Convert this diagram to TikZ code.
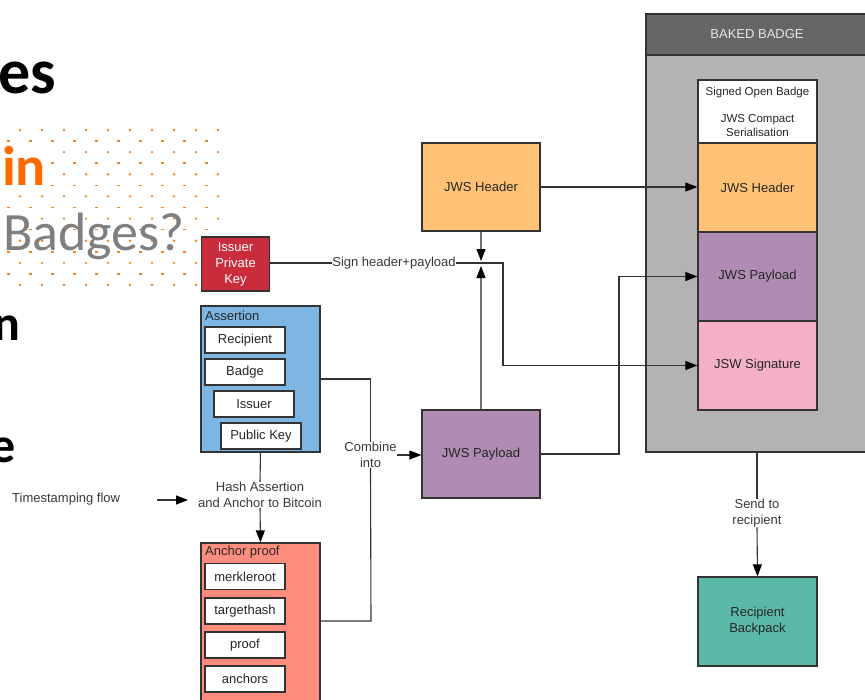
\documentclass[tikz,border=0pt]{standalone}
\usepackage{fontspec}
\setmainfont{Liberation Sans}
\newfontfamily\calib{Carlito}
\usetikzlibrary{arrows.meta}
\definecolor{keyred}{HTML}{C92D3C}
\definecolor{asrblue}{HTML}{7DB6E2}
\definecolor{ancsal}{HTML}{FF8D7D}
\definecolor{hdrorg}{HTML}{FFC274}
\definecolor{paypur}{HTML}{B08CB2}
\definecolor{sigpink}{HTML}{F4B1C6}
\definecolor{backteal}{HTML}{5BB9A7}
\definecolor{bodygray}{HTML}{B3B3B3}
\definecolor{headgray}{HTML}{666666}
\definecolor{dotorg}{HTML}{F28322}
\definecolor{inorg}{HTML}{FF6A00}
\definecolor{txtgray}{HTML}{7F7F7F}
\begin{document}
\begin{tikzpicture}[x=1pt,y=-1pt,
  every node/.style={inner sep=0pt},
  lbl/.style={font=\fontsize{13}{16}\selectfont, text=black!78, align=center},
  box/.style={draw=black!80, line width=1.3pt, align=center, font=\fontsize{13}{16}\selectfont, text=black!85},
  field/.style={box, fill=white, minimum width=80pt, minimum height=26pt},
  conn/.style={draw=black!80, line width=1.1pt},
  arr/.style={conn, -{Triangle[length=12pt,width=9pt,color=black]}},
  garr/.style={arr, draw=black!55}]
\useasboundingbox (0,0) rectangle (865,699);
\clip (0,0) rectangle (865,699);
\fill[white] (0,0) rectangle (865,699);

% dotted pattern
\foreach \i in {0,...,14}{
  \foreach \j in {0,...,9}{
    \pgfmathsetmacro\yy{130+11.07*\i}
    \pgfmathsetmacro\xx{20-12*mod(\i,2)+22*\j}
    \ifodd\i
      \fill[dotorg] (\xx-1.5,\yy-0.8) rectangle (\xx+1.5,\yy+0.8);
    \else
      \fill[dotorg] (\xx,\yy) circle (1.3pt);
    \fi
  }
}
\fill[white] (0,147) rectangle (47,190);

% slide text
\node[anchor=base east, font=\calib\bfseries\fontsize{64}{70}\selectfont] (tes) at (56,93) {es};
\node[anchor=base west, font=\calib\bfseries\fontsize{56}{60}\selectfont, text=inorg] (tin) at (2,185) {in};
\node[anchor=base west, font=\calib\fontsize{54}{60}\selectfont, text=txtgray] (tbad) at (3,250) {Badges?};
\node[anchor=base east, font=\calib\bfseries\fontsize{50}{56}\selectfont] (tn) at (21,340) {n};
\node[anchor=base east, font=\calib\bfseries\fontsize{50}{56}\selectfont] (te) at (16,462) {e};

% baked badge
\node[box, fill=bodygray, minimum width=222pt, minimum height=438pt] (bb) at (757,233) {};
\node[box, fill=headgray, minimum width=222pt, minimum height=41pt, text=black!10] (bbh) at (757,34.5) {BAKED BADGE};
\node[box, fill=white, minimum width=119pt, minimum height=63pt, font=\fontsize{11.5}{13.7}\selectfont] (sob) at (757.5,111.5) {Signed Open Badge\\[13.7pt]JWS Compact\\Serialisation};
\node[box, fill=hdrorg, minimum width=119pt, minimum height=89pt] (bhdr) at (757.5,187.5) {JWS Header};
\node[box, fill=paypur, minimum width=119pt, minimum height=89pt] (bpay) at (757.5,276.5) {JWS Payload};
\node[box, fill=sigpink, minimum width=119pt, minimum height=89pt] (bsig) at (757.5,365.5) {JSW Signature};
\node[box, fill=backteal, minimum width=119pt, minimum height=89pt] (back) at (757.5,621.5) {Recipient\\Backpack};

% JWS parts
\node[box, fill=hdrorg, minimum width=118pt, minimum height=88pt] (hdr) at (481,187) {JWS Header};
\node[box, fill=paypur, minimum width=118pt, minimum height=88pt] (pay) at (481,454) {JWS Payload};
\node[box, fill=keyred, text=white, minimum width=68pt, minimum height=54pt] (key) at (235.5,264) {Issuer\\Private\\Key};

% assertion
\node[box, fill=asrblue, minimum width=119pt, minimum height=146pt] (asr) at (260.5,379) {};
\node[anchor=west, font=\fontsize{13}{16}\selectfont, text=black!85] (asrl) at (205,316) {Assertion};
\node[field] (frec) at (245,340) {Recipient};
\node[field] (fbad) at (245,372) {Badge};
\node[field] (fiss) at (254,404) {Issuer};
\node[field] (fpk) at (261,436) {Public Key};

% anchor proof
\node[box, fill=ancsal, minimum width=119pt, minimum height=177pt] (anc) at (260.5,631.5) {};
\node[anchor=west, font=\fontsize{13}{16}\selectfont, text=black!85] (ancl) at (205,552) {Anchor proof};
\node[field] (fmr) at (245,576.5) {merkleroot};
\node[field] (fth) at (245,611) {targethash};
\node[field] (fpr) at (245,645) {proof};
\node[field] (fan) at (245,679) {anchors};

% labels
\node[lbl, fill=white] (sign) at (394,263) {Sign header+payload};
\node[lbl, fill=white] (comb) at (370.5,455) {Combine\\into};
\node[lbl, fill=white] (hash) at (260,495) {Hash Assertion\\and Anchor to Bitcoin};
\node[lbl, fill=white] (send) at (757,513) {Send to\\recipient};
\node[lbl, anchor=west] (ts) at (12,499) {Timestamping flow};

% coordinates
\coordinate (jt) at (481,261);
\coordinate (jb) at (481,266);
\coordinate (sc) at (503,263);
\coordinate (pc) at (619,454);
\coordinate (ac) at (371,621);
\coordinate (tsA) at (157,500);
\coordinate (tsB) at (188,500);

% connectors
\draw[arr] (hdr.east) -- (hdr.east -| bhdr.west);
\draw[arr] (pay.east) -- (pc) |- (bpay.west);
\draw[conn] (key.east |- sign) -- (sign.west);
\draw[arr] (sign.east) -- (sc) |- (bsig.west);
\draw[garr] (hdr.south) -- (jt);
\draw[garr] (pay.north) -- (jb);
\draw[conn] (asr.east) -| (comb.north);
\draw[conn] (anc.east |- ac) -- (ac) -- (comb.south);
\draw[arr] (comb.east) -- (comb.east -| pay.west);
\draw[conn] (asr.south) -- (hash.north);
\draw[arr] (hash.south) -- (anc.north);
\draw[arr] (tsA) -- (tsB);
\draw[conn] (bb.south) -- (send.north);
\draw[arr] (send.south) -- (back.north);
\end{tikzpicture}
\end{document}
